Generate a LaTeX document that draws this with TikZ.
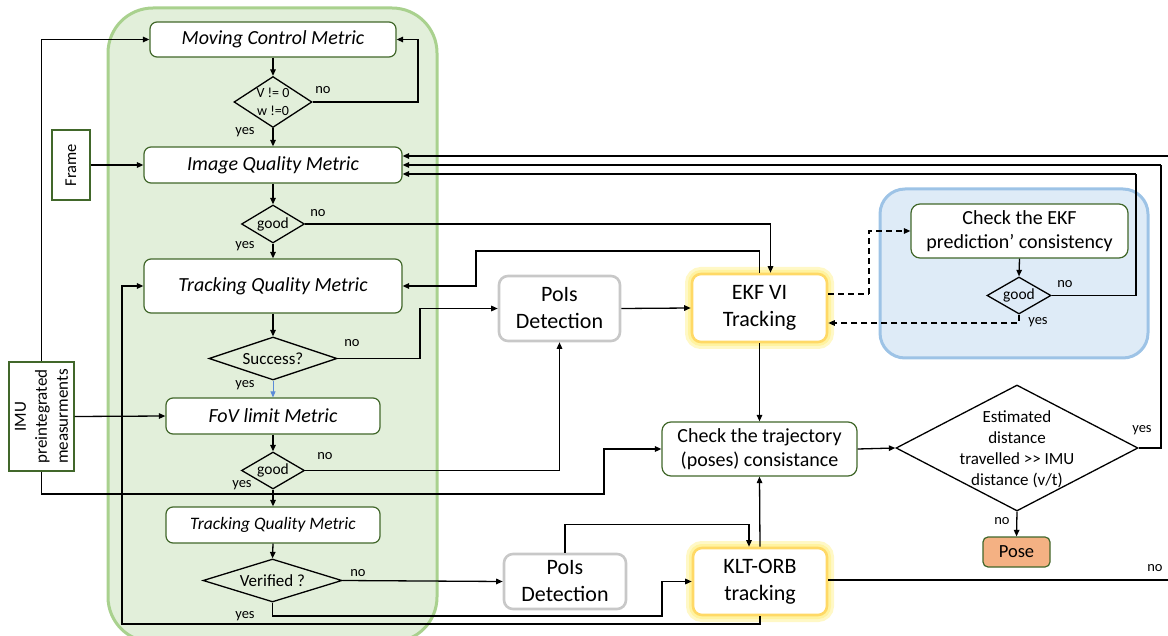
\documentclass[tikz,border=0pt]{standalone}
\usepackage{fontspec}
\setmainfont{Carlito}
\usetikzlibrary{arrows.meta,shapes.geometric,calc}
\definecolor{gfill}{HTML}{E2EFDA}
\definecolor{gborder}{HTML}{A9D18E}
\definecolor{dkgreen}{HTML}{41672A}
\definecolor{bfill}{HTML}{DEEBF7}
\definecolor{bborder}{HTML}{9DC3E6}
\definecolor{grayb}{HTML}{C8C8C8}
\definecolor{goldb}{HTML}{FFD966}
\definecolor{glowc}{HTML}{FFF3A0}
\definecolor{posefill}{HTML}{F4B183}
\definecolor{bluearrow}{HTML}{5B8BD8}
\tikzset{
  box/.style={draw=dkgreen, line width=1.2pt, rounded corners=7pt, fill=white, inner sep=0pt, align=center},
  metric/.style={box, font=\itshape\fontsize{20}{24}\selectfont},
  plainbox/.style={draw=dkgreen, line width=1.2pt, fill=white, inner sep=0pt},
  graybox/.style={draw=grayb, line width=2.6pt, rounded corners=9pt, fill=white, inner sep=0pt, align=center, font=\fontsize{22}{27}\selectfont},
  yelbox/.style={draw=goldb, line width=2.6pt, rounded corners=9pt, fill=white, inner sep=0pt, align=center, font=\fontsize{22}{27}\selectfont,
     preaction={draw=glowc!60, line width=14pt}, preaction={draw=glowc, line width=8pt}},
  chkbox/.style={box, rounded corners=9pt, font=\fontsize{20}{24}\selectfont},
  dia/.style={diamond, draw=black, line width=1.3pt, inner sep=0pt, fill=none},
  dtext/.style={inner sep=0pt, align=center, font=\fontsize{15.5}{18}\selectfont},
  lbl/.style={inner sep=0pt, font=\fontsize{14.5}{17}\selectfont},
  conn/.style={line width=1.3pt, -{Triangle[length=6.5pt,width=5.5pt]}},
  plain/.style={line width=1.3pt},
  dconn/.style={conn, dash pattern=on 6pt off 4pt},
  dplain/.style={plain, dash pattern=on 6pt off 4pt},
}
\begin{document}
\begin{tikzpicture}[x=1pt,y=-1pt]
\useasboundingbox (0,0) rectangle (1168,636);
% background groups
\draw[draw=gborder, fill=gfill, line width=3pt, rounded corners=45pt] (108,8) rectangle (437,642);
\draw[draw=bborder, fill=bfill, line width=3pt, rounded corners=25pt] (880,189) rectangle (1148,358);

% left column
\node[metric, minimum width=246, minimum height=35] (mcm) at (273,39.5) {Moving Control Metric};
\node[dia, minimum width=78, minimum height=51] (d1) at (273,102) {};
\node[dtext, font=\fontsize{14}{18}\selectfont] (d1t) at (d1) {V != 0\\w !=0};
\node[metric, minimum width=258, minimum height=36] (iqm) at (273,165) {Image Quality Metric};
\node[plainbox, minimum width=38, minimum height=70] (frame) at (71,165) {};
\node[rotate=90, inner sep=0pt, font=\fontsize{16.5}{20}\selectfont] (framet) at (frame) {Frame};
\node[dia, minimum width=63, minimum height=38] (g1) at (273,224) {};
\node[dtext] (g1t) at (g1) {good};
\node[metric, minimum width=258, minimum height=54] (tqm1) at (273,286) {Tracking Quality Metric};
\node[dia, minimum width=128, minimum height=43] (succ) at (273,358.5) {};
\node[dtext, font=\fontsize{17}{20}\selectfont] (succt) at (succ) {Success?};
\node[metric, minimum width=214, minimum height=36] (fov) at (273,416) {FoV limit Metric};
\node[plainbox, minimum width=65, minimum height=109] (imu) at (41.5,416.5) {};
\node[rotate=90, inner sep=0pt, align=center, font=\fontsize{17}{21}\selectfont] (imut) at (imu) {IMU\\preintegrated\\measurments};
\node[dia, minimum width=63, minimum height=37] (g2) at (273,470.5) {};
\node[dtext] (g2t) at (g2) {good};
\node[metric, minimum width=214, minimum height=36, font=\itshape\fontsize{17.5}{21}\selectfont] (tqm2) at (273,525) {Tracking Quality Metric};
\node[dia, minimum width=139, minimum height=43] (ver) at (272.5,580.5) {};
\node[dtext, font=\fontsize{17}{20}\selectfont] (vert) at (ver) {Verified ?};

% middle
\node[graybox, minimum width=121, minimum height=65] (pois1) at (559.5,308.5) {PoIs\\Detection};
\node[yelbox, minimum width=135, minimum height=68] (ekf) at (759.5,308) {EKF VI\\Tracking};
\node[chkbox, minimum width=195, minimum height=54] (traj) at (759.5,449) {Check the trajectory\\(poses) consistance};
\node[graybox, minimum width=122, minimum height=55] (pois2) at (565,581.5) {PoIs\\Detection};
\node[yelbox, minimum width=134, minimum height=67] (klt) at (760,581.5) {KLT-ORB\\tracking};

% right
\node[chkbox, minimum width=217, minimum height=54] (chk) at (1019.5,231) {Check the EKF\\prediction’ consistency};
\node[dia, minimum width=64, minimum height=37] (g3) at (1019,295.5) {};
\node[dtext] (g3t) at (g3) {good};
\node[dia, minimum width=242, minimum height=126] (est) at (1017,448) {};
\node[dtext, font=\fontsize{17}{21}\selectfont] (estt) at (1017,449) {Estimated\\distance\\travelled >{}> IMU\\distance (v/t)};
\node[box, rounded corners=5pt, fill=posefill, minimum width=67, minimum height=30, font=\fontsize{18.5}{22}\selectfont] (pose) at (1016.5,552) {Pose};

% coordinates for bends
\coordinate (c1) at (418,39.5);
\coordinate (c2) at (476,251);
\coordinate (c3) at (420,308.5);
\coordinate (c4) at (604,494);
\coordinate (c5) at (662,616);
\coordinate (c6) at (122,624);
\coordinate (c7) at (869,294);
\coordinate (c8) at (1161,165);
\coordinate (c9) at (1136,174);
\coordinate (eR1) at (1168,156);
\coordinate (eR2) at (1168,580);

% connectors
\draw[conn] (imu.north) |- (mcm.west);
\draw[conn] (mcm.south) -- (d1.north);
\draw[conn] (d1.east) -| (c1) -- (mcm.east);
\draw[conn] (d1.south) -- (iqm.north);
\draw[conn] (frame.east) -- (iqm.west);
\draw[conn] (iqm.south) -- (g1.north);
\draw[conn] (g1.east) -| ($(ekf.north)+(11,0)$);
\draw[conn] (g1.south) -- (tqm1.north);
\draw[conn] (ekf.north) |- (c2) |- (tqm1.east);
\draw[conn] (tqm1.south) -- (succ.north);
\draw[plain] (succ.east) -| (c3);
\draw[conn] (c3) -- (pois1.west);
\draw[line width=0.8pt, draw=bluearrow, -{Triangle[length=6pt,width=5pt]}] (succ.south) -- (fov.north);
\draw[conn] (imu.east) -- (fov.west);
\draw[conn] (fov.south) -- (g2.north);
\draw[conn] (g2.east) -| (pois1.south);
\draw[conn] (imu.south) |- (c4) |- (traj.west);
\draw[conn] (g2.south) -- (tqm2.north);
\draw[conn] (tqm2.south) -- (ver.north);
\draw[conn] (ver.east) -- (pois2.west);
\draw[conn] (ver.south) |- (c5) |- (klt.west);
\draw[conn] (klt.south) |- (c6) |- (tqm1.west);
\draw[conn] (pois1.east) -- (ekf.west);
\draw[conn] (pois2.north) |- ($(klt.north)+(-11,-22)$) -- ($(klt.north)+(-11,0)$);
\draw[conn] (klt.north) -- (traj.south);
\draw[conn] (ekf.south) -- (traj.north);
\draw[conn] (traj.east) -- (est.west);
\draw[conn] (est.south) -- (pose.north);
\draw[plain] (est.east) -| (c8);
\draw[conn] (c8) -- (iqm.east);
\draw[plain] (g3.east) -| (c9);
\draw[conn] (c9) -- ($(iqm.east)+(0,9)$);
\draw[conn] (eR1) -- ($(iqm.east)+(0,-9)$);
\draw[plain] (klt.east |- eR2) -- (eR2);
\draw[dplain] (ekf.east |- c7) -- (c7);
\draw[dconn] (c7) |- (chk.west);
\draw[conn] (chk.south) -- (g3.north);
\draw[dconn] (g3.south) |- ($(ekf.east)+(0,15)$);

% labels
\node[lbl] (l1) at (323,90) {no};
\node[lbl] (l2) at (245,132) {yes};
\node[lbl] (l3) at (318,213) {no};
\node[lbl] (l4) at (245,246) {yes};
\node[lbl] (l5) at (352,343) {no};
\node[lbl] (l6) at (245,385) {yes};
\node[lbl] (l7) at (325,456) {no};
\node[lbl] (l8) at (242,485) {yes};
\node[lbl] (l9) at (358,573) {no};
\node[lbl] (l10) at (245,616) {yes};
\node[lbl] (l11) at (1065,284) {no};
\node[lbl] (l12) at (1038,322) {yes};
\node[lbl] (l13) at (1142,430) {yes};
\node[lbl] (l14) at (1002,521) {no};
\node[lbl] (l15) at (1155,568) {no};
\end{tikzpicture}
\end{document}
